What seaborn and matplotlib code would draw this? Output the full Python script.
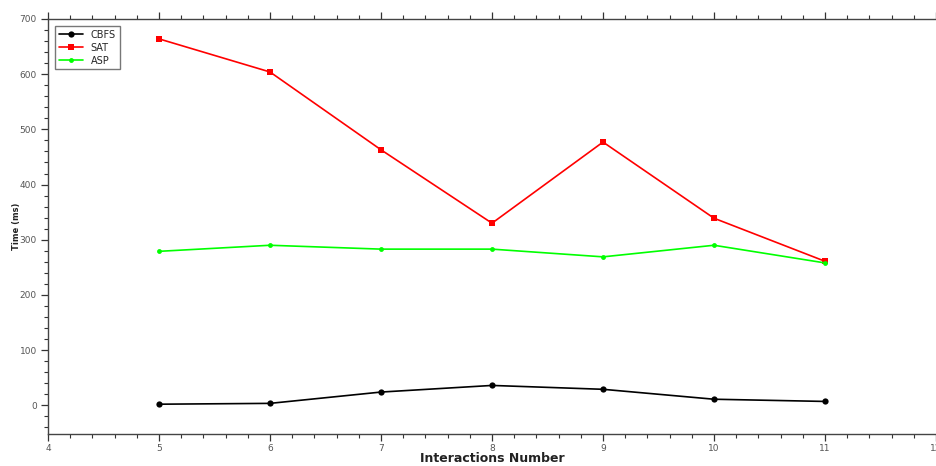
import pandas as pd
import matplotlib.pyplot as plt
import seaborn as sns
from matplotlib.ticker import MultipleLocator

interactions = [5, 6, 7, 8, 9, 10, 11]
cbfs = [2, 3.5, 24, 36, 29, 11, 7]
sat = [664, 604, 463, 330, 477, 339, 261]
asp = [279, 290, 283, 283, 269, 290, 258]

df = pd.concat([
    pd.DataFrame({'Interactions': interactions, 'Time': cbfs, 'Method': 'CBFS'}),
    pd.DataFrame({'Interactions': interactions, 'Time': sat, 'Method': 'SAT'}),
    pd.DataFrame({'Interactions': interactions, 'Time': asp, 'Method': 'ASP'}),
], ignore_index=True)

sns.set_theme(style="white")
plt.rcParams['font.family'] = ['DejaVu Sans']

fig = plt.figure(figsize=(9.36, 4.66), dpi=100)
ax = fig.add_axes([48 / 936, 32 / 466, 1 - 48 / 936, (434 - 19) / 466])

palette = {'CBFS': '#000000', 'SAT': '#ff0000', 'ASP': '#00ff00'}
markers = {'CBFS': 'o', 'SAT': 's', 'ASP': 'o'}
sns.lineplot(data=df, x='Interactions', y='Time', hue='Method', style='Method',
             palette=palette, markers=markers, dashes=False, linewidth=1.2,
             markersize=4.5, markeredgewidth=0, ax=ax)
# smaller dots on the ASP series
for line in ax.lines:
    if line.get_label() == 'ASP' or line.get_color() == '#00ff00':
        line.set_markersize(3.5)

ax.set_xlim(4, 12)
ax.set_ylim(-52, 700)
ax.xaxis.set_major_locator(MultipleLocator(1))
ax.xaxis.set_minor_locator(MultipleLocator(0.2))
ax.yaxis.set_major_locator(MultipleLocator(100))
ax.yaxis.set_minor_locator(MultipleLocator(20))
ax.tick_params(which='both', direction='out', top=True, bottom=True, left=True, right=False,
               color='#333333', labelcolor='#555555', labelsize=6.5, pad=3)
ax.tick_params(axis='x', pad=2)
ax.tick_params(which='major', length=5, width=0.9)
ax.tick_params(which='minor', length=3, width=0.8)
for s in ['left', 'top', 'bottom']:
    ax.spines[s].set_color('#444444')
    ax.spines[s].set_linewidth(1.0)
ax.spines['right'].set_visible(False)

ax.set_xlabel('Interactions Number', fontsize=9, fontweight='bold', color='#222222')
ax.xaxis.set_label_coords(0.5, -18.5 / 415)
ax.set_ylabel('Time (ms)', fontsize=6, fontweight='bold', color='#222222')
ax.yaxis.set_label_coords(-27 / 888, 0.5)

leg = ax.legend(loc='upper left', title=None, fontsize=7, frameon=True, fancybox=False,
                borderaxespad=0.7, handlelength=2.5, labelspacing=0.3, borderpad=0.4)
leg.get_frame().set_edgecolor('#555555')
leg.get_frame().set_linewidth(1.0)

fig.savefig('out.png', dpi=100)
